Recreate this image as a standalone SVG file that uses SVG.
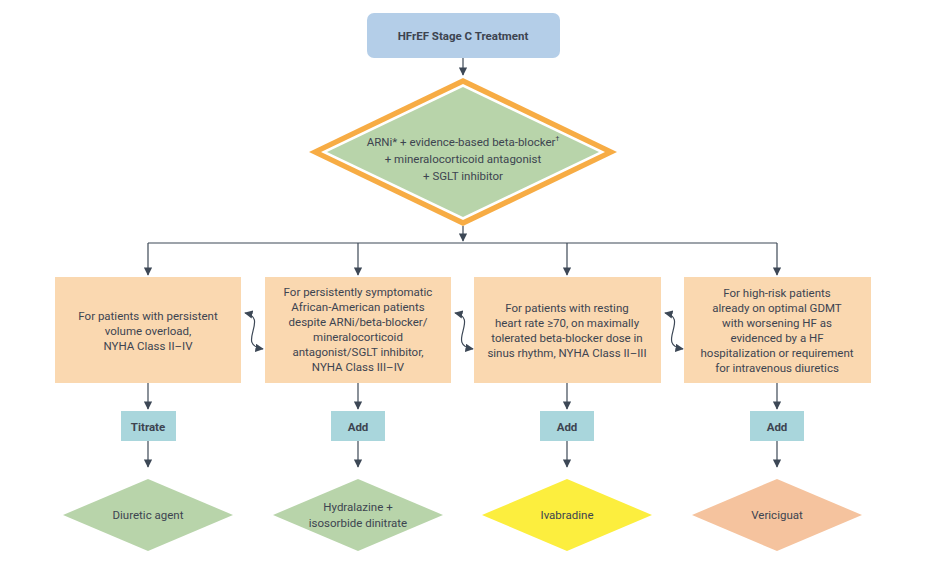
<svg xmlns="http://www.w3.org/2000/svg" width="927" height="570" viewBox="0 0 927 570">
<defs>
<marker id="ah" viewBox="0 0 10 10" refX="9" refY="5" markerWidth="7" markerHeight="7" orient="auto-start-reverse"><path d="M0,0 L10,5 L0,10 z" fill="#3d4856"/></marker>
</defs>
<style>
text{font-family:Roboto,"Liberation Sans",sans-serif;fill:#3d4450;text-anchor:middle;font-size:11.5px}
.b{font-weight:bold}
.box{fill:#fad8b0}
.lab{fill:#a9d6dc}
.ln{stroke:#3d4856;stroke-width:1.2;fill:none}
</style>
<rect width="927" height="570" fill="#fff"/>
<g id="connectors">
<path class="ln" d="M463,58 V75" marker-end="url(#ah)"/>
<path class="ln" d="M463,226 V241" marker-end="url(#ah)"/>
<path class="ln" d="M148,243 H777"/>
<path class="ln" d="M148,243 V275" marker-end="url(#ah)"/>
<path class="ln" d="M358,243 V275" marker-end="url(#ah)"/>
<path class="ln" d="M567,243 V275" marker-end="url(#ah)"/>
<path class="ln" d="M777,243 V275" marker-end="url(#ah)"/>
<path class="ln" d="M148,383 V409" marker-end="url(#ah)"/>
<path class="ln" d="M358,383 V409" marker-end="url(#ah)"/>
<path class="ln" d="M567,383 V409" marker-end="url(#ah)"/>
<path class="ln" d="M777,383 V409" marker-end="url(#ah)"/>
<path class="ln" d="M148,441 V467" marker-end="url(#ah)"/>
<path class="ln" d="M358,441 V467" marker-end="url(#ah)"/>
<path class="ln" d="M567,441 V467" marker-end="url(#ah)"/>
<path class="ln" d="M777,441 V467" marker-end="url(#ah)"/>
<path class="ln" d="M245,313 C270,318 235,345 263,349" marker-start="url(#ah)" marker-end="url(#ah)"/>
<path class="ln" d="M455,313 C480,318 445,345 473,349" marker-start="url(#ah)" marker-end="url(#ah)"/>
<path class="ln" d="M665,313 C690,318 655,345 683,349" marker-start="url(#ah)" marker-end="url(#ah)"/>
</g>
<g id="start">
<rect x="367" y="13" width="193" height="45" rx="7" fill="#b4cee8"/>
<text x="463" y="40" class="b" font-size="14">HFrEF Stage C Treatment</text>
</g>
<g id="main">
<polygon points="463,78 617,152 463,226 309,152" fill="#f7ac44"/>
<polygon points="463,84 605,152 463,220 321,152" fill="#fff"/>
<polygon points="463,87 599,152 463,217 327,152" fill="#b8d4aa"/>
<text x="463" y="146">ARNi* + evidence-based beta-blocker<tspan font-size="7" dy="-5">†</tspan></text>
<text x="463" y="163">+ mineralocorticoid antagonist</text>
<text x="463" y="180">+ SGLT inhibitor</text>
</g>
<g id="c1">
<rect class="box" x="55" y="277" width="186" height="106"/>
<text x="148" y="320">For patients with persistent</text>
<text x="148" y="335">volume overload,</text>
<text x="148" y="350">NYHA Class II–IV</text>
</g>
<g id="c2">
<rect class="box" x="265" y="277" width="186" height="106"/>
<text x="358" y="296">For persistently symptomatic</text>
<text x="358" y="311">African-American patients</text>
<text x="358" y="326">despite ARNi/beta-blocker/</text>
<text x="358" y="341">mineralocorticoid</text>
<text x="358" y="356">antagonist/SGLT inhibitor,</text>
<text x="358" y="371">NYHA Class III–IV</text>
</g>
<g id="c3">
<rect class="box" x="474" y="277" width="187" height="106"/>
<text x="567" y="312">For patients with resting</text>
<text x="567" y="327">heart rate ≥70, on maximally</text>
<text x="567" y="342">tolerated beta-blocker dose in</text>
<text x="567" y="357">sinus rhythm, NYHA Class II–III</text>
</g>
<g id="c4">
<rect class="box" x="684" y="277" width="187" height="106"/>
<text x="777" y="297">For high-risk patients</text>
<text x="777" y="312">already on optimal GDMT</text>
<text x="777" y="327">with worsening HF as</text>
<text x="777" y="342">evidenced by a HF</text>
<text x="777" y="357">hospitalization or requirement</text>
<text x="777" y="372">for intravenous diuretics</text>
</g>
<g id="l1"><rect class="lab" x="121" y="411" width="55" height="30"/><text x="148" y="431" class="b" font-size="12.5">Titrate</text></g>
<g id="l2"><rect class="lab" x="331" y="411" width="54" height="30"/><text x="358" y="431" class="b" font-size="12.5">Add</text></g>
<g id="l3"><rect class="lab" x="540" y="411" width="54" height="30"/><text x="567" y="431" class="b" font-size="12.5">Add</text></g>
<g id="l4"><rect class="lab" x="750" y="411" width="54" height="30"/><text x="777" y="431" class="b" font-size="12.5">Add</text></g>
<g id="d1"><polygon points="148,479 233,515 148,551 63,515" fill="#b8d4aa"/><text x="148" y="519" font-size="12.5">Diuretic agent</text></g>
<g id="d2"><polygon points="358,479 443,515 358,551 273,515" fill="#b8d4aa"/><text x="358" y="511" font-size="12.5">Hydralazine +</text><text x="358" y="527" font-size="12.5">isosorbide dinitrate</text></g>
<g id="d3"><polygon points="567,479 652,515 567,551 482,515" fill="#fcee3e"/><text x="567" y="519" font-size="12.5">Ivabradine</text></g>
<g id="d4"><polygon points="777,479 862,515 777,551 692,515" fill="#f5c39e"/><text x="777" y="519" font-size="12.5">Vericiguat</text></g>
</svg>
